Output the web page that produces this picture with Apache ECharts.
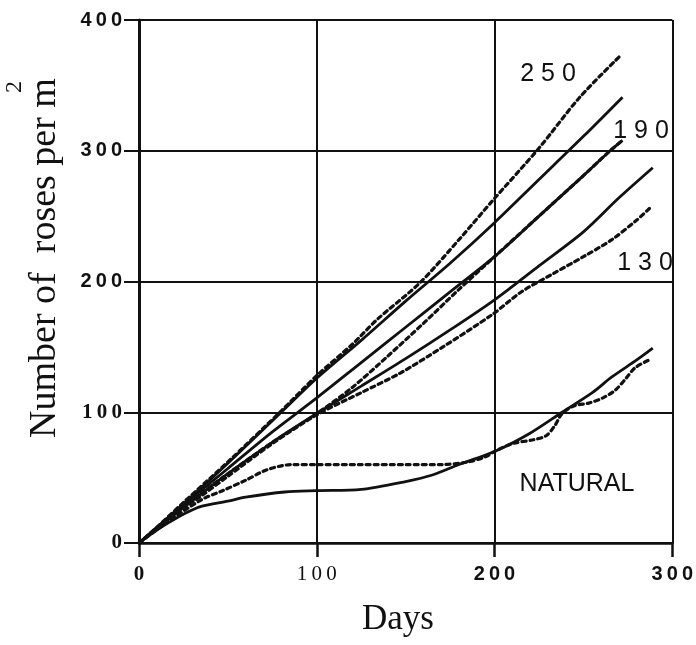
<!DOCTYPE html>
<html>
<head>
<meta charset="utf-8">
<script src="https://cdn.jsdelivr.net/npm/echarts@6/dist/echarts.min.js"></script>
<style>
  html, body { margin: 0; padding: 0; background: #fff; }
  #chart { width: 696px; height: 645px; }
</style>
</head>
<body>
<div id="chart"></div>
<script>
// Axis ticks
const xTicks = [0, 100, 200, 300];
const yTicks = [0, 100, 200, 300, 400];

// [day, roses per m2]
const solid250 = [[0,0],[10,12],[25,30],[50,61],[80,100],[100,126],[125,155],[150,185],[175,214],[200,245],[225,278],[250,311],[272,341]];
const dotted250 = [[0,0],[10,12],[25,31],[50,62],[80,101],[100,128],[120,152],[134,171],[158,199],[180,232],[199,262],[225,302],[248,341],[271,373]];
const solid190 = [[0,0],[25,29],[50,57],[75,85],[100,111],[125,138],[150,165],[175,192],[200,219],[225,250],[250,281],[265,300],[272,308]];
const dotted190 = [[0,0],[25,28],[50,53],[75,77],[100,99],[120,119],[140,143],[160,168],[180,194],[200,219],[225,250],[250,281],[265,300],[272,308]];
const solid130 = [[0,0],[25,27],[50,53],[75,77],[100,99],[125,120],[150,141],[175,163],[200,186],[225,212],[250,238],[270,264],[289,287]];
const dotted130 = [[0,0],[20,22],[35,36],[50,51],[75,76],[100,98],[125,115],[147,130],[171,150],[199,175],[215,192],[233,206],[250,219],[266,232],[280,247],[288,257]];
const solidNatural = [[0,0],[8,8],[16,15],[25,22],[35,28],[50,32],[60,35],[82,39],[100,40],[125,41],[150,47],[165,52],[180,60],[200,70],[220,84],[238,100],[255,115],[266,127],[280,140],[289,149]];
const dottedNatural = [[0,0],[15,15],[35,33],[47,40],[60,48],[72,56],[86,60],[100,60],[125,60],[150,60],[170,60],[185,62],[195,66],[200,70],[210,76],[222,79],[229,82],[234,90],[238,99],[245,105],[253,107],[261,111],[268,117],[274,126],[279,134],[287,140]];

const curveLabels = [
  { text: '2 5 0', x: 548, y: 74 },
  { text: '1 9 0', x: 641, y: 131 },
  { text: '1 3 0', x: 645, y: 263 },
  { text: 'NATURAL', x: 577, y: 484 }
];

const INK = '#111';
const spaced = s => String(s).split('').join('\u2009');

function solidSeries(name, data) {
  return { name, type: 'line', data, showSymbol: false, smooth: 0.3,
    lineStyle: { color: INK, width: 2.8 }, z: 3 };
}
function dottedSeries(name, data) {
  return { name, type: 'line', data, showSymbol: false, smooth: 0.3,
    lineStyle: { color: INK, width: 3.2, type: [4, 4], cap: 'round' }, z: 4 };
}

const chart = echarts.init(document.getElementById('chart'), null, { renderer: 'canvas' });

const option = {
  backgroundColor: '#ffffff',
  animation: false,
  grid: { left: 139, right: 23, top: 20, bottom: 102 },
  xAxis: {
    type: 'value', min: 0, max: 300, interval: 100,
    axisLine: { show: true, lineStyle: { color: INK, width: 2.5 } },
    axisTick: { show: true, length: 14, lineStyle: { color: INK, width: 2.5 } },
    splitLine: { show: true, lineStyle: { color: INK, width: 2 } },
    axisLabel: {
      margin: 21,
      formatter: v => v === 0 ? '{sb|' + v + '}' : (v === 100 ? '{s|' + spaced(v) + '}' : '{a|' + spaced(v) + '}'),
      rich: {
        sb: { fontFamily: 'Liberation Serif', fontWeight: 'bold', fontSize: 21, color: INK },
        s: { fontFamily: 'Liberation Serif', fontSize: 21, color: INK },
        a: { fontFamily: 'Liberation Sans', fontWeight: 'bold', fontSize: 20, color: INK }
      }
    }
  },
  yAxis: {
    type: 'value', min: 0, max: 400, interval: 100,
    axisLine: { show: true, lineStyle: { color: INK, width: 3 } },
    axisTick: { show: true, length: 15, lineStyle: { color: INK, width: 2 } },
    splitLine: { show: true, lineStyle: { color: INK, width: 2 } },
    axisLabel: {
      margin: 17,
      formatter: v => v <= 100 ? '{s|' + spaced(v) + '}' : '{a|' + spaced(v) + '}',
      rich: {
        s: { fontFamily: 'Liberation Serif', fontWeight: 'bold', fontSize: 21, color: INK },
        a: { fontFamily: 'Liberation Sans', fontWeight: 'bold', fontSize: 20, color: INK }
      }
    }
  },
  series: [
    dottedSeries('250 observed', dotted250),
    solidSeries('250', solid250),
    dottedSeries('190 observed', dotted190),
    solidSeries('190', solid190),
    dottedSeries('130 observed', dotted130),
    solidSeries('130', solid130),
    dottedSeries('Natural observed', dottedNatural),
    solidSeries('Natural', solidNatural)
  ],
  graphic: [
    {
      type: 'text', x: 45, y: 258, rotation: Math.PI / 2,
      style: { text: 'Number of  roses per m', font: '38px "Liberation Serif"', fill: INK,
        align: 'center', verticalAlign: 'middle' }
    },
    {
      type: 'text', x: 15, y: 87, rotation: Math.PI / 2,
      style: { text: '2', font: '24px "Liberation Serif"', fill: INK,
        align: 'center', verticalAlign: 'middle' }
    },
    {
      type: 'text', x: 398, y: 620,
      style: { text: 'Days', font: '35px "Liberation Serif"', fill: INK,
        align: 'center', verticalAlign: 'middle' }
    }
  ].concat(curveLabels.map(l => ({
    type: 'text', x: l.x, y: l.y, z: 10,
    style: { text: l.text, font: '25px "Liberation Sans"', fill: INK,
      align: 'center', verticalAlign: 'middle' }
  })))
};

chart.setOption(option);
</script>
</body>
</html>
